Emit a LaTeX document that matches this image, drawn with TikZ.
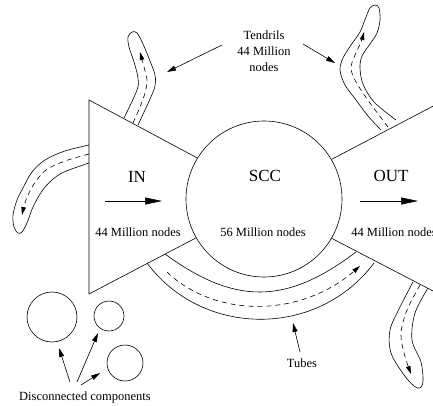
\documentclass[tikz,border=0pt]{standalone}
\usepackage{fontspec}
\setmainfont{Liberation Serif}
\usetikzlibrary{arrows.meta}
\begin{document}
\begin{tikzpicture}[x=1pt,y=-1pt,line width=0.6pt,
  small/.style={font=\fontsize{12.5}{16}\selectfont,inner sep=0pt,align=center},
  big/.style={font=\fontsize{17}{20}\selectfont,inner sep=0pt},
  lbl/.style={-{Triangle[length=9pt,width=5pt]}},
  flow/.style={-{Triangle[length=17pt,width=7pt]}},
  dashflow/.style={dash pattern=on 5pt off 4pt,-{Triangle[length=8pt,width=4.5pt]}},
  tendril/.style={smooth,tension=0.55}]
\useasboundingbox (0,0) rectangle (433,406);
\clip (0,0) rectangle (433,406);
% bow tie
\draw (89,100) -- (272,198) -- (89,294) -- cycle;
\draw (460,92) -- (256,199) -- (460,305);
\node[draw,circle,fill=white,minimum size=156pt,inner sep=0pt] (scc) at (264,199) {};
% labels
\node[big] (in) at (137,177) {IN};
\node[big] (sccl) at (265,176) {SCC};
\node[big] (out) at (391,176) {OUT};
\node[small] (inn) at (138,232) {44 Million nodes};
\node[small] (sccn) at (263,232) {56 Million nodes};
\node[small,anchor=west] (outn) at (351,232) {44 Million nodes};
\coordinate (ina) at (105,201); \coordinate (inb) at (162,201);
\coordinate (outa) at (360,201); \coordinate (outb) at (418,201);
\draw[flow] (ina) -- (inb);
\draw[flow] (outa) -- (outb);
% tubes
\draw (165,254) .. controls (235,305) and (286,305) .. (356,252);
\draw (147,263) .. controls (203,338) and (318,338) .. (374,263);
\draw[dashflow] (167,272) .. controls (215,318) and (300,318) .. (360,266);
% tendrils
\draw plot[tendril] coordinates {(124,118) (137,90) (138,78) (134,62) (129,47) (128,37) (132,32) (137,33) (143,44) (150,61) (155,75) (155,86) (150,99) (138,125)};
\draw[dashflow] plot[tendril] coordinates {(133,123) (140,107) (145,93) (147,80) (144,67) (140,52)};
\draw plot[tendril] coordinates {(89,145) (65,151) (45,160) (32,172) (23,188) (17,200) (13,215) (14,227) (18,233) (22,232) (27,223) (33,207) (42,191) (52,180) (64,172) (89,163)};
\draw[dashflow] plot[tendril] coordinates {(89,154) (65,161) (46,170) (34,184) (26,200) (22,215)};
\draw plot[tendril] coordinates {(381,130) (368,116) (356,100) (345,85) (340,70) (343,58) (351,45) (360,32) (366,17) (370,8) (375,5) (379,8) (380,20) (377,33) (370,44) (362,56) (360,68) (363,84) (374,102) (396,120)};
\draw[dashflow] plot[tendril] coordinates {(388,127) (370,103) (356,82) (351,68) (355,55) (361,42) (364,32)};
\draw plot[tendril] coordinates {(413,282) (400,307) (390,330) (391,353) (404,375) (414,386) (420,388) (423,381) (421,362) (412,340) (415,313) (428,288)};
\draw[dashflow] plot[tendril] coordinates {(420,285) (407,310) (401,333) (404,353) (411,374)};
% tendrils label
\node[small] (tend) at (264,51) {Tendrils\\44 Million\\nodes};
\coordinate (ta) at (222,45); \coordinate (tb) at (167,72);
\coordinate (tc) at (303,44); \coordinate (td) at (335,63);
\draw[lbl] (ta) -- (tb);
\draw[lbl] (tc) -- (td);
% tubes label
\node[small] (tubes) at (302,363) {Tubes};
\coordinate (tua) at (300,352); \coordinate (tub) at (293,323);
\draw[lbl] (tua) -- (tub);
% disconnected
\node[draw,circle,minimum size=50pt,inner sep=0pt] (d1) at (52,317) {};
\node[draw,circle,minimum size=30pt,inner sep=0pt] (d2) at (109,316) {};
\node[draw,circle,minimum size=36pt,inner sep=0pt] (d3) at (125,363) {};
\node[small] (disc) at (85,397) {Disconnected components};
\coordinate (da) at (70,382); \coordinate (db) at (77,382); \coordinate (dc) at (81,385);
\coordinate (dta) at (59,348); \coordinate (dtb) at (98,333); \coordinate (dtc) at (100,373);
\draw[lbl] (da) -- (dta);
\draw[lbl] (db) -- (dtb);
\draw[lbl] (dc) -- (dtc);
\end{tikzpicture}
\end{document}
